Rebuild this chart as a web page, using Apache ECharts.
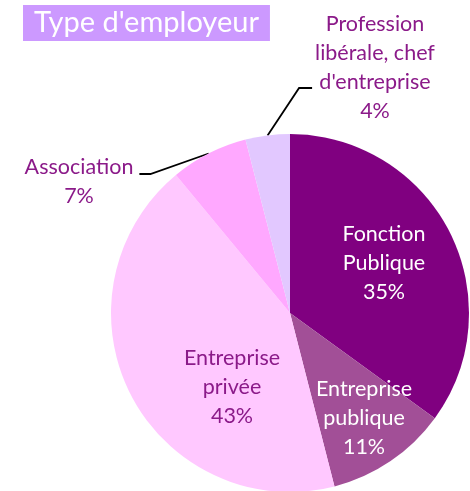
<!DOCTYPE html>
<html lang="fr">
<head>
  <meta charset="utf-8">
  <title>Type d'employeur</title>
  <script src="https://cdn.jsdelivr.net/npm/echarts@6/dist/echarts.min.js"></script>
  <style>
    html, body { margin: 0; padding: 0; background: #fff; }
    #chart1 { width: 470px; height: 491px; }
  </style>
</head>
<body>
<div id="chart1"></div>
<script>
  // donnees
  var categories = ['Fonction\nPublique', 'Entreprise\npublique', 'Entreprise\nprivée', 'Association', 'Profession\nlibérale, chef\nd\'entreprise'];
  var valeurs = [35, 11, 43, 7, 4];
  var couleurs = ['#800080', '#a24f97', '#ffc8ff', '#ffa8ff', '#e2c8ff'];
  var couleursTexte = ['#ffffff', '#ffffff', '#8b1a89', '#8b1a89', '#8b1a89'];
  var exterieur = [false, false, false, true, true];

  // centre des etiquettes (px)
  var posEtiquettes = [[384, 263], [364, 418], [232, 387], [79, 182], [375, 68]];

  var centre = [290, 313], rayon = 179;
  var total = valeurs.reduce(function (a, b) { return a + b; }, 0);

  function pointBord(i) {
    var avant = 0;
    for (var k = 0; k < i; k++) avant += valeurs[k];
    var a = (avant + valeurs[i] / 2) / total * 2 * Math.PI;
    return [centre[0] + rayon * Math.sin(a), centre[1] - rayon * Math.cos(a)];
  }

  var chart1 = echarts.init(document.getElementById('chart1'));

  var donnees = categories.map(function (nom, i) {
    return {
      name: nom,
      value: valeurs[i],
      itemStyle: { color: couleurs[i] },
      label: {
        position: exterieur[i] ? 'outside' : 'inside',
        color: couleursTexte[i]
      },
      labelLine: { show: exterieur[i] }
    };
  });

  var option = {
    animation: false,
    title: {
      text: 'Type d\'employeur',
      left: 23,
      top: 5,
      backgroundColor: '#cc99ff',
      padding: [3, 11, 4, 11],
      textStyle: {
        color: '#ffffff',
        fontFamily: 'Lato',
        fontWeight: 'normal',
        fontSize: 29
      }
    },
    series: [
      {
        type: 'pie',
        center: centre,
        radius: rayon,
        startAngle: 90,
        clockwise: true,
        data: donnees,
        itemStyle: { borderWidth: 0 },
        label: {
          formatter: '{b}\n{c}%',
          fontFamily: 'Lato',
          fontSize: 21.5,
          lineHeight: 29,
          align: 'center',
          overflow: 'none',
          textBorderWidth: 0
        },
        labelLine: {
          lineStyle: { color: '#000', width: 1.8 }
        },
        labelLayout: function (p) {
          var i = p.dataIndex;
          var pos = posEtiquettes[i];
          var res = { x: pos[0], y: pos[1], align: 'center', verticalAlign: 'middle' };
          if (exterieur[i]) {
            var w = p.labelRect.width;
            var p0 = pointBord(i);
            var fin, coude;
            if (i === 3) {
              fin = [pos[0] + w / 2 + 6, pos[1] - 8];
              coude = [fin[0] + 11, fin[1]];
            } else {
              fin = [pos[0] - w / 2 - 3, pos[1] + 20];
              coude = [fin[0] - 13, fin[1]];
            }
            res.labelLinePoints = [p0, coude, fin];
          }
          return res;
        }
      }
    ]
  };
  chart1.setOption(option);
</script>
</body>
</html>
